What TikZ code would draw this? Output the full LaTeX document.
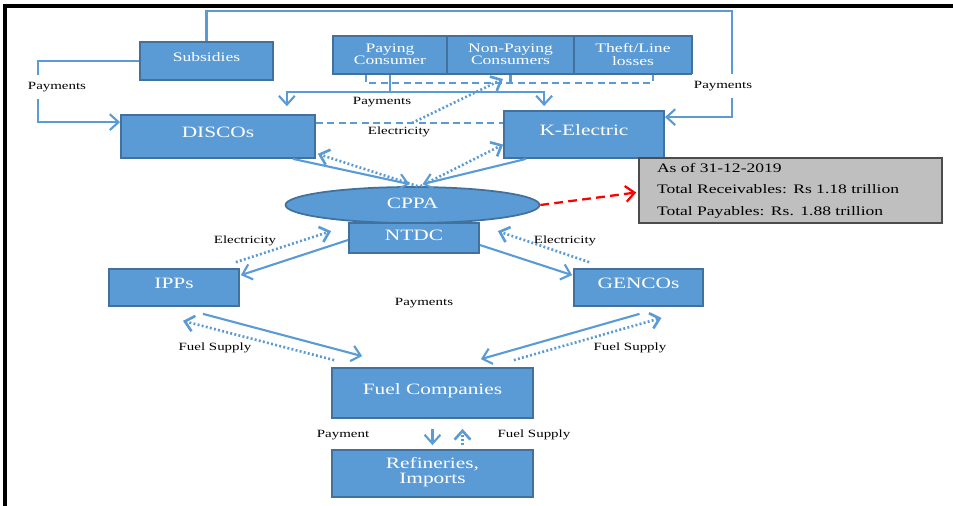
\documentclass[tikz,border=0pt]{standalone}
\usepackage{fontspec}
\setmainfont{Liberation Serif}[FakeStretch=1.35]
\usetikzlibrary{arrows.meta,shapes.geometric,calc}
\definecolor{boxblue}{HTML}{5B9BD5}
\definecolor{boxedge}{HTML}{41719C}
\definecolor{notegray}{HTML}{BFBFBF}
\begin{document}
\begin{tikzpicture}[x=0.02cm,y=-0.02cm,>={Straight Barb[length=5pt,width=9pt]},
    blk/.style={draw=boxedge,fill=boxblue,text=white,line width=1pt,inner sep=0pt,align=center,font=\fontsize{9}{8.5}\selectfont,text depth=4.6pt},
    sblk/.style={blk,font=\fontsize{7.4}{7.2}\selectfont,text depth=1pt},
    lbl/.style={font=\fontsize{6.3}{7}\selectfont,inner sep=1pt},
    flow/.style={boxblue,line width=1.2pt},
    dotflow/.style={boxblue,line width=1.5pt,dash pattern=on 1.1pt off 1.3pt},
    dashflow/.style={boxblue,line width=1.2pt,dash pattern=on 4pt off 2.5pt}]
                \useasboundingbox (0,0) rectangle (953,506);
                \draw[line width=2.3pt] (5,506) -- (5,6) -- (953,6);
                \node[blk,font=\fontsize{7.4}{8}\selectfont,minimum width=2.66cm,minimum height=0.76cm] (S) at (206.5,61) {Subsidies};
                \node[sblk,minimum width=2.28cm,minimum height=0.76cm] (PC) at (390,55) {Paying\\Consumer};
                \node[sblk,minimum width=2.54cm,minimum height=0.76cm] (NP) at (510.5,55) {Non-Paying\\Consumers};
                \node[sblk,minimum width=2.36cm,minimum height=0.76cm] (TL) at (633,55) {Theft/Line\\losses};
                \node[blk,minimum width=3.88cm,minimum height=0.86cm] (D) at (218,136.5) {DISCOs};
                \node[blk,minimum width=3.2cm,minimum height=0.94cm] (K) at (584,134.5) {K-Electric};
                \node[blk,minimum width=2.6cm,minimum height=0.6cm,text depth=3pt] (N) at (414,238) {NTDC};
                \node[blk,ellipse,minimum width=5.08cm,minimum height=0.72cm,text depth=2pt] (C) at (412.5,205) {CPPA};
                \node[blk,minimum width=2.6cm,minimum height=0.74cm] (I) at (174,287.5) {IPPs};
                \node[blk,minimum width=2.58cm,minimum height=0.74cm] (G) at (638.5,287.5) {GENCOs};
                \node[blk,minimum width=4.02cm,minimum height=1cm] (F) at (432.5,393) {Fuel Companies};
                \node[blk,minimum width=4.02cm,minimum height=0.94cm,text depth=4pt] (R) at (432.5,473.5) {Refineries,\\Imports};
                \node[draw=gray!60!black,fill=notegray,line width=1pt,inner sep=0pt,minimum width=6.06cm,minimum height=1.3cm,text width=5.34cm,align=left,font=\fontsize{7.4}{12.2}\selectfont] (A) at (790.5,190.5) {As of 31-12-2019\\Total Receivables: Rs 1.18 trillion\\Total Payables: Rs. 1.88 trillion};
                \coordinate (tr) at (732,11);
                \coordinate (lc) at (38,61);
                \coordinate (pj) at (390,92);
                \coordinate (dl) at (366,83);
                \coordinate (dr) at (653,83);
                \coordinate (el) at (412,123);
                \coordinate (et) at (503,79);
                \draw[flow,->] (S.north) |- (tr) |- ($(K.north east)+(0,7)$);
                \draw[flow,->] (S.west) -- (lc) |- ($(D.north west)+(0,8)$);
                \draw[flow] (PC.south) -- (pj);
                \draw[flow,->,shorten >=4.5pt] (pj) -| ($(D.north east)+(-29,0)$);
                \draw[flow,->,shorten >=2.3pt] (pj) -| ($(K.north west)+(41,0)$);
                \draw[dashflow] (PC.south -| dl) -- (dl) -- (dr) -- (TL.south -| dr);
                \draw[dashflow] (NP.south) -- (NP.south |- dl);
                \draw[dashflow] (D.east |- el) -- (K.west |- el);
                \draw[dotflow,->] (el) -- (et);
                \draw[flow,->] ($(D.south east)+(-23,0)$) -- ($(C.north)+(-3,-2)$);
                \draw[dotflow,->] ($(C.north)+(5,0)$) -- ($(D.south east)+(2,-5)$);
                \draw[flow,->] ($(K.south west)+(23,0)$) -- ($(C.north)+(10,-2)$);
                \draw[dotflow,->] ($(C.north)+(8,0)$) -- ($(K.west)+(0,10)$);
                \draw[flow,->] ($(N.west)+(0,2)$) -- ($(I.north east)+(1,7)$);
                \draw[dotflow,->] ($(I.north east)+(-4,-6)$) -- ($(N.north west)+(-17,9)$);
                \draw[flow,->] ($(N.east)+(0,7)$) -- ($(G.north west)+(-1,7)$);
                \draw[dotflow,->] ($(G.north west)+(16,-6)$) -- ($(N.north east)+(18,9)$);
                \draw[flow,->] ($(I.south)+(29,7)$) -- ($(F.north west)+(31,-11)$);
                \draw[dotflow,->] ($(F.north west)+(3,-7)$) -- ($(I.south)+(9,14)$);
                \draw[flow,->] ($(G.south)+(1,7)$) -- ($(F.north east)+(-53,-8)$);
                \draw[dotflow,->] ($(F.north east)+(-20,-7)$) -- ($(G.south)+(23,11)$);
                \draw[flow,->] ($(F.south)+(0,10)$) -- ($(R.north)+(0,-4)$);
                \draw[dotflow,->] ($(R.north)+(30,-4)$) -- ($(F.south)+(30,10)$);
                \draw[red,line width=1.3pt,dash pattern=on 5pt off 3pt,->] (C.east) -- ($(A.west)+(-2,2)$);
                \node[lbl,fill=white,inner ysep=4pt] (lp1) at (57,87) {Payments};
                \node[lbl] (lp2) at (382,102) {Payments};
                \node[lbl] (le1) at (399,132) {Electricity};
                \node[lbl,fill=white,inner ysep=4pt] (lp3) at (723,86) {Payments};
                \node[lbl] (le2) at (245,241) {Electricity};
                \node[lbl] (le3) at (565,241) {Electricity};
                \node[lbl] (lp4) at (424,303) {Payments};
                \node[lbl] (lf1) at (215,348) {Fuel Supply};
                \node[lbl] (lf2) at (630,348) {Fuel Supply};
                \node[lbl] (lp5) at (343,435) {Payment};
                \node[lbl] (lf3) at (534,435) {Fuel Supply};
            \end{tikzpicture}
\end{document}
